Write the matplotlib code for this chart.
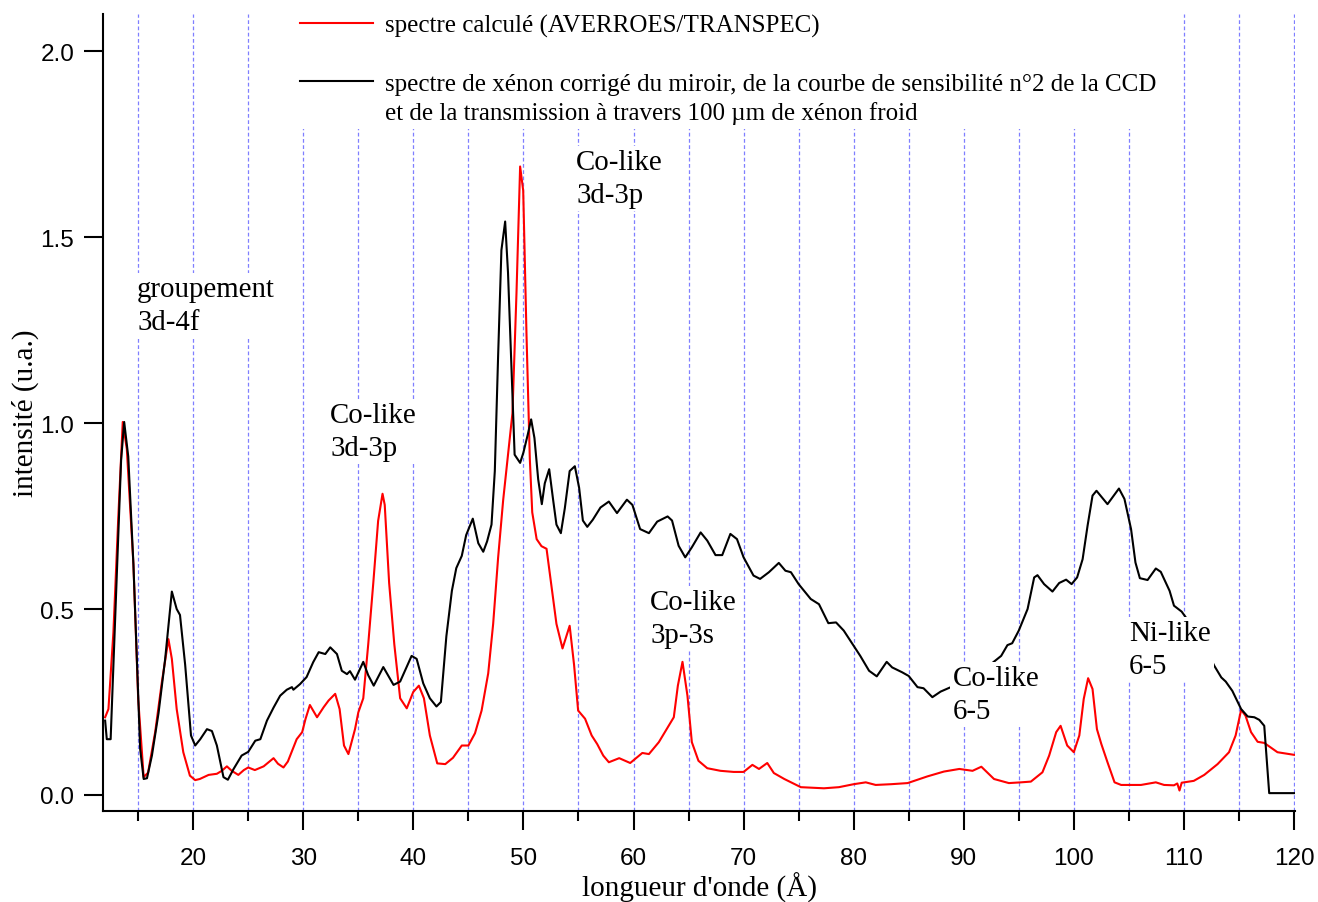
import numpy as np
import matplotlib
matplotlib.use('Agg')
import matplotlib.pyplot as plt
from matplotlib.lines import Line2D
from matplotlib.ticker import MultipleLocator

# spectre experimental (xenon corrige)
lam_exp = [12.0, 12.15, 12.5, 13.45, 13.73, 14.1, 14.57, 15.18, 15.5, 15.8, 16.25, 16.85,
           17.45, 18.06, 18.5, 18.8, 19.27, 19.8, 20.18, 20.64, 21.25, 21.7, 22.15, 22.75,
           23.15, 23.67, 24.4, 25.0, 25.64, 26.1, 26.7, 27.3, 27.9, 28.5, 28.97, 29.1,
           29.7, 30.3, 30.9, 31.4, 32.0, 32.45, 33.06, 33.5, 33.97, 34.24, 34.7, 35.45,
           35.9, 36.4, 37.27, 38.2, 38.8, 39.84, 40.3, 40.9, 41.5, 42.1, 42.5, 43.0,
           43.5, 43.9, 44.4, 44.8, 45.4, 45.9, 46.35, 46.7, 47.1, 47.4, 47.7, 48.0,
           48.34, 48.6, 48.9, 49.2, 49.7, 50.0, 50.4, 50.7, 51.0, 51.34, 51.67, 51.94,
           52.34, 52.7, 53.0, 53.4, 53.76, 54.2, 54.67, 55.06, 55.4, 55.8, 56.3, 57.0,
           57.76, 58.5, 59.4, 59.9, 60.6, 61.4, 62.15, 63.1, 63.5, 64.1, 64.7, 65.3,
           66.1, 66.7, 67.45, 68.06, 68.8, 69.4, 70.0, 70.9, 71.5, 72.3, 73.2, 73.8,
           74.3, 75.0, 76.1, 76.85, 77.7, 78.4, 79.1, 80.0, 80.6, 81.4, 82.1, 82.45,
           83.0, 83.5, 84.4, 85.0, 85.8, 86.35, 87.15, 87.9, 88.75, 89.6, 90.6, 91.6,
           92.6, 93.4, 93.97, 94.4, 95.0, 95.8, 96.4, 96.7, 97.3, 98.06, 98.67, 99.3,
           99.8, 100.3, 100.8, 101.25, 101.7, 102.06, 103.06, 104.1, 104.6, 105.2, 105.6, 106.0,
           106.7, 107.45, 107.9, 108.7, 109.1, 109.8, 110.6, 111.4, 112.15, 112.75, 113.4, 113.8,
           114.4, 115.2, 115.8, 116.4, 116.85, 117.3, 117.75, 120.0]
int_exp = [0.20, 0.15, 0.15, 0.90, 1.003, 0.91, 0.62, 0.124, 0.043, 0.045, 0.106, 0.22,
           0.365, 0.547, 0.50, 0.484, 0.35, 0.16, 0.133, 0.15, 0.177, 0.172, 0.133, 0.048,
           0.041, 0.07, 0.106, 0.116, 0.146, 0.15, 0.20, 0.235, 0.267, 0.283, 0.29, 0.283,
           0.298, 0.317, 0.357, 0.384, 0.379, 0.397, 0.379, 0.334, 0.325, 0.333, 0.31, 0.358,
           0.322, 0.294, 0.344, 0.296, 0.305, 0.374, 0.366, 0.30, 0.26, 0.238, 0.25, 0.427,
           0.549, 0.61, 0.643, 0.699, 0.743, 0.677, 0.654, 0.682, 0.727, 0.871, 1.18, 1.465,
           1.542, 1.404, 1.16, 0.915, 0.893, 0.921, 0.97, 1.01, 0.96, 0.849, 0.782, 0.838,
           0.876, 0.793, 0.727, 0.704, 0.771, 0.871, 0.884, 0.826, 0.738, 0.721, 0.74, 0.773,
           0.789, 0.758, 0.794, 0.78, 0.715, 0.704, 0.735, 0.749, 0.738, 0.67, 0.639, 0.666,
           0.706, 0.684, 0.645, 0.645, 0.702, 0.688, 0.639, 0.59, 0.581, 0.599, 0.624, 0.603,
           0.599, 0.567, 0.527, 0.513, 0.462, 0.464, 0.442, 0.401, 0.374, 0.334, 0.319, 0.334,
           0.358, 0.343, 0.33, 0.32, 0.29, 0.287, 0.263, 0.278, 0.289, 0.29, 0.31, 0.33,
           0.355, 0.374, 0.403, 0.408, 0.442, 0.50, 0.585, 0.591, 0.567, 0.547, 0.57, 0.579,
           0.567, 0.585, 0.634, 0.724, 0.805, 0.818, 0.782, 0.824, 0.796, 0.715, 0.625, 0.583,
           0.578, 0.609, 0.60, 0.549, 0.509, 0.493, 0.46, 0.42, 0.385, 0.348, 0.316, 0.305,
           0.28, 0.231, 0.211, 0.209, 0.202, 0.186, 0.005, 0.005]

# spectre calcule AVERROES/TRANSPEC
lam_calc = [12.0, 12.3, 12.75, 13.2, 13.6, 13.97, 14.57, 15.0, 15.5, 15.9, 16.55, 17.15,
            17.75, 18.06, 18.5, 19.1, 19.7, 20.18, 20.6, 21.4, 22.15, 22.6, 23.06, 23.5,
            24.1, 24.6, 25.0, 25.6, 26.4, 27.3, 27.7, 28.2, 28.6, 29.4, 29.9, 30.2,
            30.6, 31.25, 31.85, 32.3, 32.9, 33.3, 33.7, 34.1, 34.7, 35.0, 35.45, 35.9,
            36.36, 36.8, 37.2, 37.4, 37.8, 38.27, 38.8, 39.4, 39.99, 40.5, 40.96, 41.5,
            42.17, 42.9, 43.6, 44.4, 45.0, 45.6, 46.2, 46.8, 47.25, 47.7, 48.16, 48.6,
            49.0, 49.37, 49.7, 49.98, 50.28, 50.58, 50.8, 51.2, 51.64, 52.1, 52.55, 53.0,
            53.55, 53.9, 54.2, 54.6, 54.97, 55.6, 56.2, 56.7, 57.25, 57.76, 58.7, 59.7,
            60.8, 61.4, 62.3, 63.2, 63.66, 64.03, 64.45, 64.9, 65.3, 65.9, 66.7, 67.9,
            69.1, 70.0, 70.8, 71.4, 72.15, 72.75, 73.7, 75.2, 77.3, 78.66, 80.0, 81.1,
            82.0, 83.4, 84.9, 86.7, 88.2, 89.6, 90.8, 91.6, 92.75, 94.1, 95.2, 96.1,
            97.15, 97.76, 98.4, 98.8, 99.4, 100.0, 100.5, 100.9, 101.3, 101.7, 102.1, 102.5,
            103.06, 103.7, 104.3, 106.1, 107.45, 108.2, 109.1, 109.4, 109.6, 109.8, 110.9, 111.85,
            113.06, 114.1, 114.7, 115.2, 115.6, 116.1, 116.7, 117.3, 118.5, 120.0]
int_calc = [0.209, 0.231, 0.437, 0.75, 1.003, 0.93, 0.62, 0.26, 0.048, 0.06, 0.17, 0.303,
            0.419, 0.366, 0.231, 0.115, 0.052, 0.04, 0.043, 0.054, 0.057, 0.065, 0.077, 0.065,
            0.054, 0.067, 0.074, 0.067, 0.077, 0.099, 0.084, 0.074, 0.09, 0.15, 0.169, 0.204,
            0.242, 0.209, 0.236, 0.254, 0.272, 0.231, 0.133, 0.11, 0.177, 0.222, 0.26, 0.405,
            0.57, 0.737, 0.81, 0.78, 0.57, 0.405, 0.26, 0.233, 0.277, 0.294, 0.26, 0.16,
            0.085, 0.083, 0.10, 0.133, 0.133, 0.166, 0.227, 0.327, 0.46, 0.638, 0.793, 0.915,
            1.026, 1.35, 1.69, 1.625, 1.237, 0.904, 0.76, 0.688, 0.669, 0.662, 0.56, 0.46,
            0.394, 0.427, 0.455, 0.35, 0.227, 0.205, 0.16, 0.137, 0.106, 0.088, 0.099, 0.086,
            0.113, 0.11, 0.142, 0.186, 0.209, 0.294, 0.358, 0.267, 0.142, 0.092, 0.072, 0.065,
            0.062, 0.062, 0.081, 0.07, 0.086, 0.059, 0.043, 0.021, 0.018, 0.021, 0.029, 0.034,
            0.027, 0.029, 0.032, 0.05, 0.063, 0.07, 0.065, 0.076, 0.043, 0.032, 0.034, 0.036,
            0.061, 0.106, 0.169, 0.186, 0.133, 0.115, 0.16, 0.258, 0.314, 0.285, 0.177, 0.137,
            0.088, 0.034, 0.027, 0.027, 0.034, 0.027, 0.026, 0.031, 0.012, 0.033, 0.038, 0.054,
            0.083, 0.115, 0.16, 0.229, 0.213, 0.169, 0.143, 0.14, 0.115, 0.108]

label_calc = 'spectre calculé (AVERROES/TRANSPEC)'
label_exp = ['spectre de xénon corrigé du miroir, de la courbe de sensibilité n°2 de la CCD',
             'et de la transmission à travers 100 µm de xénon froid']

serif = 'Liberation Serif'
plt.rcParams['font.family'] = 'Liberation Sans'

fig = plt.figure(figsize=(13.18, 9.03), dpi=100)
ax = fig.add_axes([0.0781, 0.1008, 0.9045, 0.8826])

l_calc, = ax.plot(lam_calc, int_calc, color='red', lw=1.5)
l_exp, = ax.plot(lam_exp, int_exp, color='black', lw=1.5)

ax.set_xlim(11.8, 120.1)
ax.set_ylim(-0.043, 2.1)
ax.spines[['top', 'right']].set_visible(False)
for s in ['left', 'bottom']:
    ax.spines[s].set_linewidth(1.5)

ax.xaxis.set_major_locator(MultipleLocator(10))
ax.xaxis.set_minor_locator(MultipleLocator(5))
ax.yaxis.set_major_locator(MultipleLocator(0.5))
ax.tick_params(axis='x', which='major', length=13.7, width=1.5, pad=12, labelsize=17.5)
ax.tick_params(axis='x', which='minor', length=7.2, width=1.5)
ax.tick_params(axis='y', length=13.7, width=1.5, pad=7, labelsize=17.5)

ax.grid(axis='x', which='both', color='#7f7fff', lw=0.9, ls=(0, (3, 2)))

ax.set_xlabel("longueur d'onde (Å)", family=serif, fontsize=21, labelpad=2)
ax.set_ylabel('intensité (u.a.)', family=serif, fontsize=21, labelpad=1)

# legende : la 2e ligne du spectre noir est une entree sans trait
blank = Line2D([], [], color='none')
ax.legend([l_calc, blank, l_exp, blank], [label_calc, ' ', label_exp[0], label_exp[1]],
          loc='upper left', bbox_to_anchor=(0.1612, 1.0063), borderaxespad=0, borderpad=0.2,
          frameon=True, fancybox=False, facecolor='white', edgecolor='none', framealpha=1,
          prop={'family': serif, 'size': 18}, handlelength=2.9, handletextpad=0.48,
          labelspacing=0.25)

box = dict(facecolor='white', edgecolor='none', pad=2)
kw = dict(family=serif, fontsize=20.8, va='top', ha='left', linespacing=1.35, bbox=box)
ax.text(14.9, 1.395, 'groupement\n3d-4f', **kw)
ax.text(32.45, 1.056, 'Co-like\n3d-3p', **kw)
ax.text(54.8, 1.737, 'Co-like\n3d-3p', **kw)
ax.text(61.5, 0.554, 'Co-like\n3p-3s', **kw)
ax.text(88.97, 0.349, 'Co-like\n6-5', **kw)
ax.text(105.03, 0.47, 'Ni-like\n6-5', **kw)

fig.savefig('out.png', dpi=100)
